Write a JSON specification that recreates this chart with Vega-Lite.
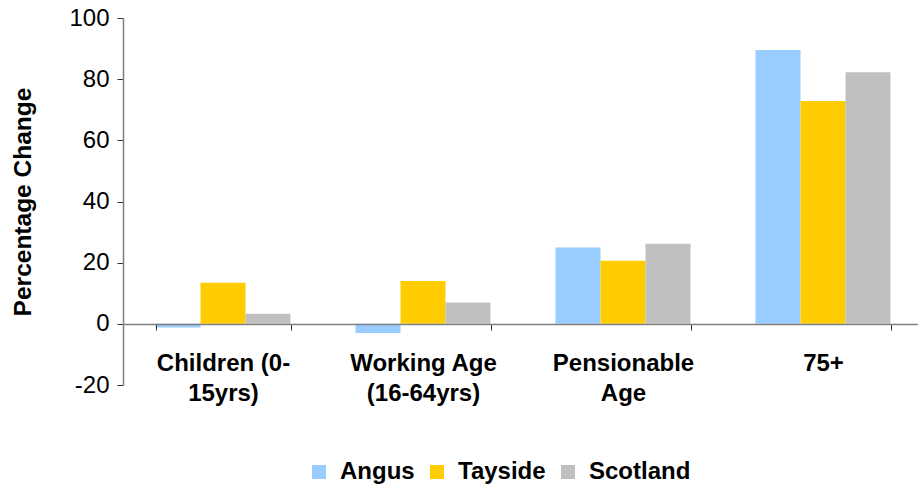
{
  "$schema": "https://vega.github.io/schema/vega-lite/v6.json",
  "autosize": {"type": "none"},
  "width": 800,
  "height": 367,
  "padding": {"left": 123, "top": 18, "right": 0, "bottom": 100},
  "background": "white",
  "config": {
    "view": {"stroke": null},
    "font": "Liberation Sans"
  },
  "data": {
    "values": [
      {"group": "Children (0-15yrs)", "area": "Angus", "change": -1.2},
      {"group": "Children (0-15yrs)", "area": "Tayside", "change": 13.4},
      {"group": "Children (0-15yrs)", "area": "Scotland", "change": 3.3},
      {"group": "Working Age (16-64yrs)", "area": "Angus", "change": -3.0},
      {"group": "Working Age (16-64yrs)", "area": "Tayside", "change": 14.0},
      {"group": "Working Age (16-64yrs)", "area": "Scotland", "change": 7.0},
      {"group": "Pensionable Age", "area": "Angus", "change": 25.0},
      {"group": "Pensionable Age", "area": "Tayside", "change": 20.6},
      {"group": "Pensionable Age", "area": "Scotland", "change": 26.2},
      {"group": "75+", "area": "Angus", "change": 89.5},
      {"group": "75+", "area": "Tayside", "change": 72.9},
      {"group": "75+", "area": "Scotland", "change": 82.3}
    ]
  },
  "mark": {"type": "bar"},
  "encoding": {
    "x": {
      "field": "group",
      "type": "nominal",
      "sort": ["Children (0-15yrs)", "Working Age (16-64yrs)", "Pensionable Age", "75+"],
      "scale": {"paddingInner": 0.325, "paddingOuter": 0.1625},
      "axis": {
        "title": null,
        "orient": "bottom",
        "offset": -61,
        "labelAngle": 0,
        "labelFont": "Liberation Sans",
        "labelFontWeight": "bold",
        "labelFontSize": 24,
        "labelColor": "black",
        "labelLineHeight": 30,
        "labelPadding": 21,
        "labelExpr": "datum.value == 'Children (0-15yrs)' ? ['Children (0-', '15yrs)'] : datum.value == 'Working Age (16-64yrs)' ? ['Working Age', '(16-64yrs)'] : datum.value == 'Pensionable Age' ? ['Pensionable', 'Age'] : datum.value",
        "domainColor": "#808080",
        "domainWidth": 1.5,
        "tickColor": "#333333",
        "tickBand": "extent",
        "tickSize": 6,
        "zindex": 1
      }
    },
    "xOffset": {
      "field": "area",
      "type": "nominal",
      "sort": ["Angus", "Tayside", "Scotland"],
      "scale": {"paddingInner": 0, "paddingOuter": 0}
    },
    "y": {
      "field": "change",
      "type": "quantitative",
      "scale": {"domain": [-20, 100], "nice": false, "zero": false},
      "axis": {
        "title": "Percentage Change",
        "titleFont": "Liberation Sans",
        "titleFontSize": 24.5,
        "titleFontWeight": "bold",
        "titleColor": "black",
        "titlePadding": 33,
        "values": [-20, 0, 20, 40, 60, 80, 100],
        "labelExpr": "toString(datum.value)",
        "grid": false,
        "labelFont": "Liberation Sans",
        "labelFontSize": 24,
        "labelColor": "black",
        "labelPadding": 8,
        "domainColor": "#808080",
        "domainWidth": 1.5,
        "tickColor": "#333333",
        "tickSize": 6
      }
    },
    "color": {
      "field": "area",
      "type": "nominal",
      "sort": ["Angus", "Tayside", "Scotland"],
      "scale": {"domain": ["Angus", "Tayside", "Scotland"], "range": ["#99CCFF", "#FFCC00", "#C0C0C0"]},
      "legend": {
        "title": null,
        "orient": "none",
        "legendX": 184,
        "legendY": 442,
        "direction": "horizontal",
        "symbolType": "square",
        "symbolSize": 196,
        "symbolStrokeWidth": 0,
        "labelFont": "Liberation Sans",
        "labelFontSize": 24,
        "labelFontWeight": "bold",
        "labelColor": "black",
        "columnPadding": 10,
        "labelOffset": 9
      }
    }
  }
}
